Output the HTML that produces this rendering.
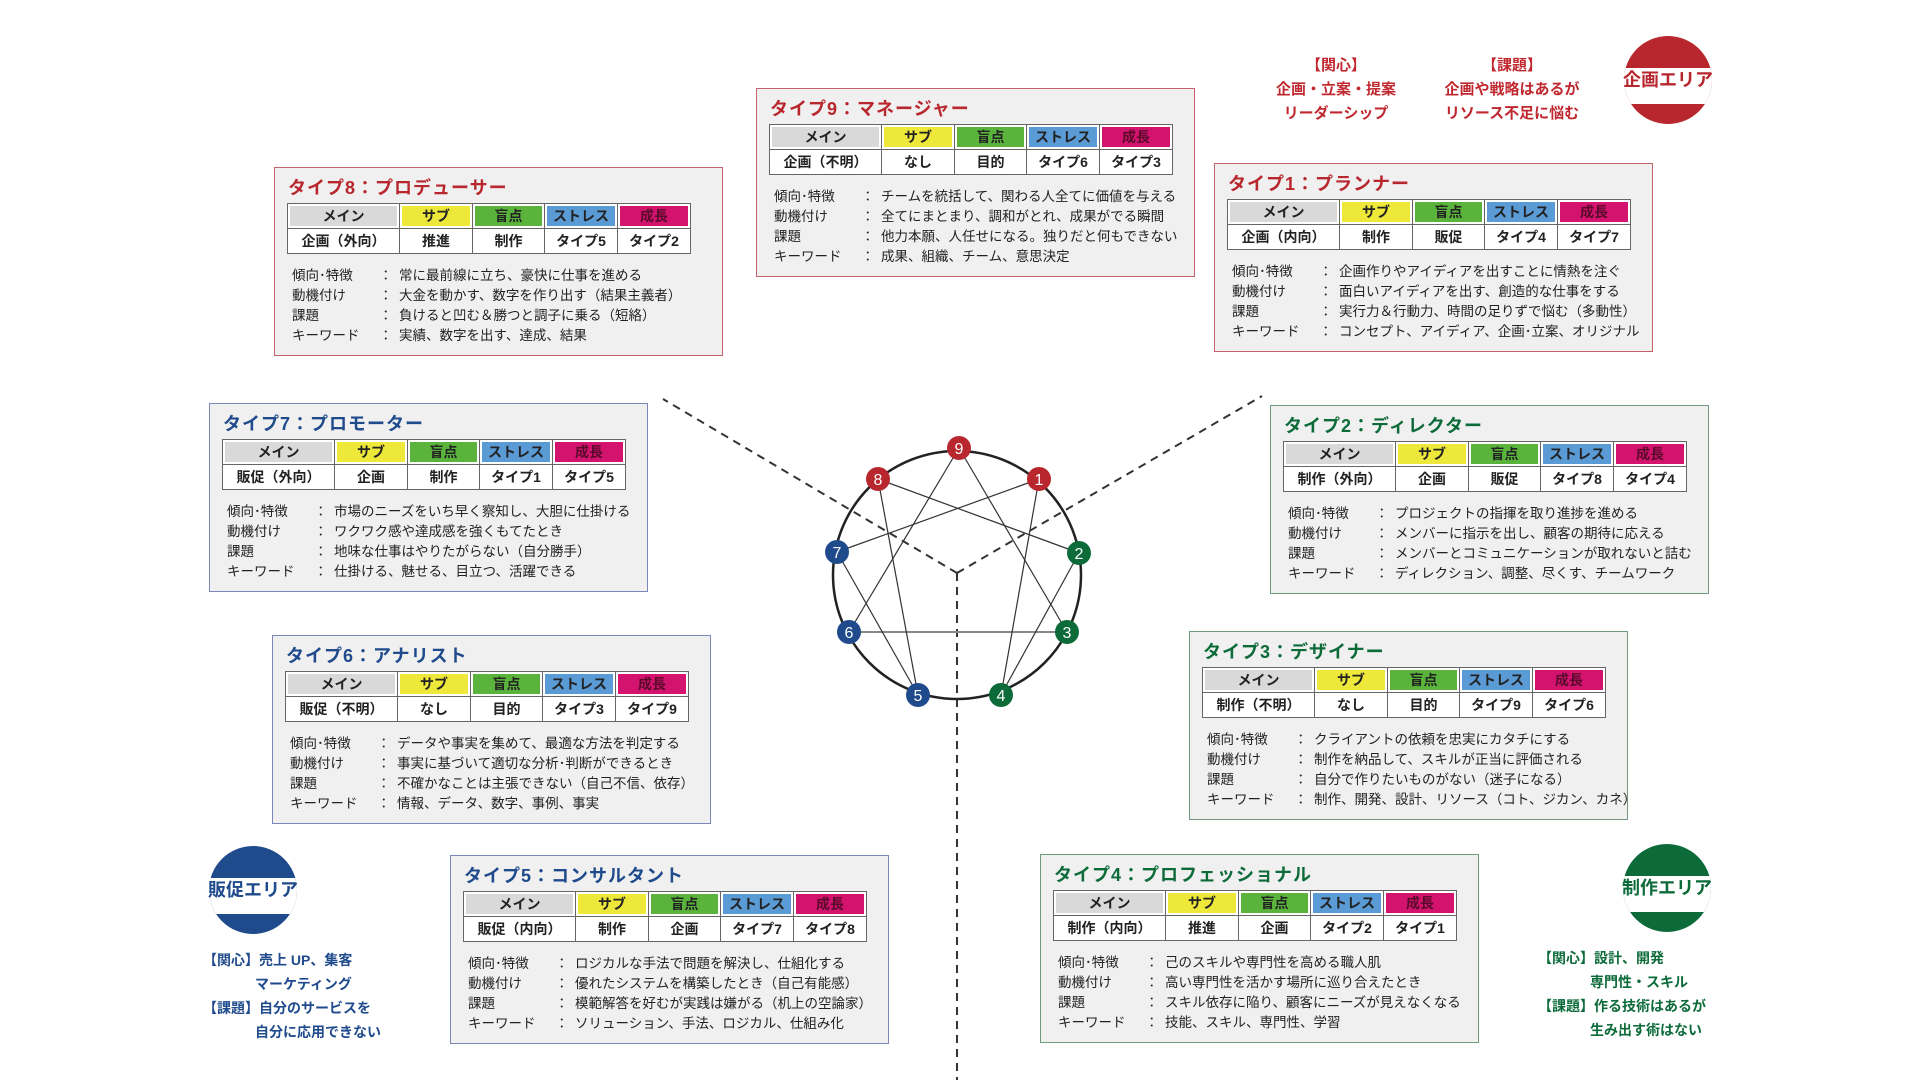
<!DOCTYPE html>
<html><head><meta charset="utf-8"><style>
*{box-sizing:border-box;margin:0;padding:0}
body{width:1920px;height:1080px;background:#fff;position:relative;overflow:hidden;font-family:"Liberation Sans","Noto Sans CJK JP",sans-serif;color:#222}
.box{position:absolute;width:439px;height:189px;background:#f0f0f0;border:1.5px solid #c4636a}
.box.b{border-color:#7c86b8}.box.g{border-color:#6f9a7e}
.t{position:absolute;left:13px;top:6px;font-size:18px;font-weight:bold;color:#b8272e;letter-spacing:1px}
.b .t{color:#1f4a8c}.g .t{color:#0d6b3a}
table{position:absolute;left:12px;top:35px;border-collapse:collapse;width:403px;table-layout:fixed;font-size:14px;font-weight:bold;text-align:center}
td{border:1.5px solid #666;height:25px;padding:0;background:#fff;white-space:nowrap;overflow:hidden}
td.h{box-shadow:inset 0 0 0 2px #fff}
.c0{background:#d9d9d9}.c1{background:#ede83a}.c2{background:#5ab43c}.c3{background:#5b9bd5}.c4{background:#d4136f;color:#5a0a2a}
.ln{position:absolute;left:17px;font-size:13.5px;white-space:nowrap;line-height:20px}
.ln span{position:absolute;left:87px}.ln i{font-style:normal;position:absolute;left:107px}
.ar{position:absolute;font-weight:bold;font-size:15px;line-height:24px;white-space:nowrap}
.circ{position:absolute;width:88px;height:88px;border-radius:50%;overflow:hidden}
.circ div{position:absolute;left:0;right:0;top:32px;height:36px;background:#fff}
.ct{position:absolute;width:120px;text-align:center;font-weight:bold;font-size:18px;line-height:36px;white-space:nowrap}
</style></head><body>

<svg width="1920" height="1080" style="position:absolute;left:0;top:0">
<g stroke="#333" stroke-width="2" stroke-dasharray="8,6" fill="none">
<line x1="957" y1="573" x2="957" y2="1080"/>
<line x1="957" y1="573" x2="663" y2="399"/>
<line x1="957" y1="573" x2="1262" y2="396"/>
</g>
<circle cx="957" cy="575" r="124" fill="none" stroke="#222" stroke-width="2.5"/>
<g stroke="#333" stroke-width="1.2">
<line x1="959" y1="448" x2="1067" y2="632"/>
<line x1="959" y1="448" x2="849" y2="632"/>
<line x1="849" y1="632" x2="1067" y2="632" stroke="#888" stroke-width="2"/>
<line x1="1039" y1="479" x2="1001" y2="695"/>
<line x1="1001" y1="695" x2="1079" y2="553"/>
<line x1="1079" y1="553" x2="878" y2="479"/>
<line x1="878" y1="479" x2="918" y2="695"/>
<line x1="918" y1="695" x2="837" y2="552"/>
<line x1="837" y1="552" x2="1039" y2="479"/>
</g>
<g font-family="Liberation Sans" font-size="16" fill="#fff" text-anchor="middle">
<circle cx="959" cy="448" r="12" fill="#b8272e"/><text x="959" y="454">9</text>
<circle cx="878" cy="479" r="12" fill="#b8272e"/><text x="878" y="485">8</text>
<circle cx="1039" cy="479" r="12" fill="#b8272e"/><text x="1039" y="485">1</text>
<circle cx="837" cy="552" r="12" fill="#1f4a8c"/><text x="837" y="558">7</text>
<circle cx="1079" cy="553" r="12" fill="#0d6b3a"/><text x="1079" y="559">2</text>
<circle cx="849" cy="632" r="12" fill="#1f4a8c"/><text x="849" y="638">6</text>
<circle cx="1067" cy="632" r="12" fill="#0d6b3a"/><text x="1067" y="638">3</text>
<circle cx="918" cy="695" r="12" fill="#1f4a8c"/><text x="918" y="701">5</text>
<circle cx="1001" cy="695" r="12" fill="#0d6b3a"/><text x="1001" y="701">4</text>
</g>
</svg>

<!-- Type 9 -->
<div class="box" style="left:756px;top:88px"><div class="t">タイプ9：マネージャー</div>
<table><colgroup><col style="width:112px"><col style="width:73px"><col style="width:72px"><col style="width:73px"><col style="width:73px"></colgroup><tr><td class="h c0">メイン</td><td class="h c1">サブ</td><td class="h c2">盲点</td><td class="h c3">ストレス</td><td class="h c4">成長</td></tr>
<tr><td>企画（不明）</td><td>なし</td><td>目的</td><td>タイプ6</td><td>タイプ3</td></tr></table>
<div class="ln" style="top:98px">傾向･特徴<span>：</span><i>チームを統括して、関わる人全てに価値を与える</i></div>
<div class="ln" style="top:118px">動機付け<span>：</span><i>全てにまとまり、調和がとれ、成果がでる瞬間</i></div>
<div class="ln" style="top:138px">課題<span>：</span><i>他力本願、人任せになる。独りだと何もできない</i></div>
<div class="ln" style="top:158px">キーワード<span>：</span><i>成果、組織、チーム、意思決定</i></div></div>

<!-- Type 8 -->
<div class="box" style="left:274px;top:167px;width:449px"><div class="t">タイプ8：プロデューサー</div>
<table><colgroup><col style="width:112px"><col style="width:73px"><col style="width:72px"><col style="width:73px"><col style="width:73px"></colgroup><tr><td class="h c0">メイン</td><td class="h c1">サブ</td><td class="h c2">盲点</td><td class="h c3">ストレス</td><td class="h c4">成長</td></tr>
<tr><td>企画（外向）</td><td>推進</td><td>制作</td><td>タイプ5</td><td>タイプ2</td></tr></table>
<div class="ln" style="top:98px">傾向･特徴<span>：</span><i>常に最前線に立ち、豪快に仕事を進める</i></div>
<div class="ln" style="top:118px">動機付け<span>：</span><i>大金を動かす、数字を作り出す（結果主義者）</i></div>
<div class="ln" style="top:138px">課題<span>：</span><i>負けると凹む＆勝つと調子に乗る（短絡）</i></div>
<div class="ln" style="top:158px">キーワード<span>：</span><i>実績、数字を出す、達成、結果</i></div></div>

<!-- Type 1 -->
<div class="box" style="left:1214px;top:163px"><div class="t">タイプ1：プランナー</div>
<table><colgroup><col style="width:112px"><col style="width:73px"><col style="width:72px"><col style="width:73px"><col style="width:73px"></colgroup><tr><td class="h c0">メイン</td><td class="h c1">サブ</td><td class="h c2">盲点</td><td class="h c3">ストレス</td><td class="h c4">成長</td></tr>
<tr><td>企画（内向）</td><td>制作</td><td>販促</td><td>タイプ4</td><td>タイプ7</td></tr></table>
<div class="ln" style="top:98px">傾向･特徴<span>：</span><i>企画作りやアイディアを出すことに情熱を注ぐ</i></div>
<div class="ln" style="top:118px">動機付け<span>：</span><i>面白いアイディアを出す、創造的な仕事をする</i></div>
<div class="ln" style="top:138px">課題<span>：</span><i>実行力＆行動力、時間の足りずで悩む（多動性）</i></div>
<div class="ln" style="top:158px">キーワード<span>：</span><i>コンセプト、アイディア、企画･立案、オリジナル</i></div></div>

<!-- Type 7 -->
<div class="box b" style="left:209px;top:403px"><div class="t">タイプ7：プロモーター</div>
<table><colgroup><col style="width:112px"><col style="width:73px"><col style="width:72px"><col style="width:73px"><col style="width:73px"></colgroup><tr><td class="h c0">メイン</td><td class="h c1">サブ</td><td class="h c2">盲点</td><td class="h c3">ストレス</td><td class="h c4">成長</td></tr>
<tr><td>販促（外向）</td><td>企画</td><td>制作</td><td>タイプ1</td><td>タイプ5</td></tr></table>
<div class="ln" style="top:98px">傾向･特徴<span>：</span><i>市場のニーズをいち早く察知し、大胆に仕掛ける</i></div>
<div class="ln" style="top:118px">動機付け<span>：</span><i>ワクワク感や達成感を強くもてたとき</i></div>
<div class="ln" style="top:138px">課題<span>：</span><i>地味な仕事はやりたがらない（自分勝手）</i></div>
<div class="ln" style="top:158px">キーワード<span>：</span><i>仕掛ける、魅せる、目立つ、活躍できる</i></div></div>

<!-- Type 2 -->
<div class="box g" style="left:1270px;top:405px"><div class="t">タイプ2：ディレクター</div>
<table><colgroup><col style="width:112px"><col style="width:73px"><col style="width:72px"><col style="width:73px"><col style="width:73px"></colgroup><tr><td class="h c0">メイン</td><td class="h c1">サブ</td><td class="h c2">盲点</td><td class="h c3">ストレス</td><td class="h c4">成長</td></tr>
<tr><td>制作（外向）</td><td>企画</td><td>販促</td><td>タイプ8</td><td>タイプ4</td></tr></table>
<div class="ln" style="top:98px">傾向･特徴<span>：</span><i>プロジェクトの指揮を取り進捗を進める</i></div>
<div class="ln" style="top:118px">動機付け<span>：</span><i>メンバーに指示を出し、顧客の期待に応える</i></div>
<div class="ln" style="top:138px">課題<span>：</span><i>メンバーとコミュニケーションが取れないと詰む</i></div>
<div class="ln" style="top:158px">キーワード<span>：</span><i>ディレクション、調整、尽くす、チームワーク</i></div></div>

<!-- Type 6 -->
<div class="box b" style="left:272px;top:635px"><div class="t">タイプ6：アナリスト</div>
<table><colgroup><col style="width:112px"><col style="width:73px"><col style="width:72px"><col style="width:73px"><col style="width:73px"></colgroup><tr><td class="h c0">メイン</td><td class="h c1">サブ</td><td class="h c2">盲点</td><td class="h c3">ストレス</td><td class="h c4">成長</td></tr>
<tr><td>販促（不明）</td><td>なし</td><td>目的</td><td>タイプ3</td><td>タイプ9</td></tr></table>
<div class="ln" style="top:98px">傾向･特徴<span>：</span><i>データや事実を集めて、最適な方法を判定する</i></div>
<div class="ln" style="top:118px">動機付け<span>：</span><i>事実に基づいて適切な分析･判断ができるとき</i></div>
<div class="ln" style="top:138px">課題<span>：</span><i>不確かなことは主張できない（自己不信、依存）</i></div>
<div class="ln" style="top:158px">キーワード<span>：</span><i>情報、データ、数字、事例、事実</i></div></div>

<!-- Type 3 -->
<div class="box g" style="left:1189px;top:631px"><div class="t">タイプ3：デザイナー</div>
<table><colgroup><col style="width:112px"><col style="width:73px"><col style="width:72px"><col style="width:73px"><col style="width:73px"></colgroup><tr><td class="h c0">メイン</td><td class="h c1">サブ</td><td class="h c2">盲点</td><td class="h c3">ストレス</td><td class="h c4">成長</td></tr>
<tr><td>制作（不明）</td><td>なし</td><td>目的</td><td>タイプ9</td><td>タイプ6</td></tr></table>
<div class="ln" style="top:98px">傾向･特徴<span>：</span><i>クライアントの依頼を忠実にカタチにする</i></div>
<div class="ln" style="top:118px">動機付け<span>：</span><i>制作を納品して、スキルが正当に評価される</i></div>
<div class="ln" style="top:138px">課題<span>：</span><i>自分で作りたいものがない（迷子になる）</i></div>
<div class="ln" style="top:158px">キーワード<span>：</span><i>制作、開発、設計、リソース（コト、ジカン、カネ）</i></div></div>

<!-- Type 5 -->
<div class="box b" style="left:450px;top:855px"><div class="t">タイプ5：コンサルタント</div>
<table><colgroup><col style="width:112px"><col style="width:73px"><col style="width:72px"><col style="width:73px"><col style="width:73px"></colgroup><tr><td class="h c0">メイン</td><td class="h c1">サブ</td><td class="h c2">盲点</td><td class="h c3">ストレス</td><td class="h c4">成長</td></tr>
<tr><td>販促（内向）</td><td>制作</td><td>企画</td><td>タイプ7</td><td>タイプ8</td></tr></table>
<div class="ln" style="top:98px">傾向･特徴<span>：</span><i>ロジカルな手法で問題を解決し、仕組化する</i></div>
<div class="ln" style="top:118px">動機付け<span>：</span><i>優れたシステムを構築したとき（自己有能感）</i></div>
<div class="ln" style="top:138px">課題<span>：</span><i>模範解答を好むが実践は嫌がる（机上の空論家）</i></div>
<div class="ln" style="top:158px">キーワード<span>：</span><i>ソリューション、手法、ロジカル、仕組み化</i></div></div>

<!-- Type 4 -->
<div class="box g" style="left:1040px;top:854px"><div class="t">タイプ4：プロフェッショナル</div>
<table><colgroup><col style="width:112px"><col style="width:73px"><col style="width:72px"><col style="width:73px"><col style="width:73px"></colgroup><tr><td class="h c0">メイン</td><td class="h c1">サブ</td><td class="h c2">盲点</td><td class="h c3">ストレス</td><td class="h c4">成長</td></tr>
<tr><td>制作（内向）</td><td>推進</td><td>企画</td><td>タイプ2</td><td>タイプ1</td></tr></table>
<div class="ln" style="top:98px">傾向･特徴<span>：</span><i>己のスキルや専門性を高める職人肌</i></div>
<div class="ln" style="top:118px">動機付け<span>：</span><i>高い専門性を活かす場所に巡り合えたとき</i></div>
<div class="ln" style="top:138px">課題<span>：</span><i>スキル依存に陥り、顧客にニーズが見えなくなる</i></div>
<div class="ln" style="top:158px">キーワード<span>：</span><i>技能、スキル、専門性、学習</i></div></div>

<!-- Areas -->
<div class="circ" style="left:1624px;top:36px;background:#b8272e"><div></div></div>
<div class="ct" style="left:1608px;top:62px;color:#b8272e">企画エリア</div>
<div class="ar" style="left:1276px;top:54px;width:120px;text-align:center;color:#c0282f">【関心】<br>企画・立案・提案<br>リーダーシップ</div>
<div class="ar" style="left:1432px;top:54px;width:160px;text-align:center;color:#c0282f">【課題】<br>企画や戦略はあるが<br>リソース不足に悩む</div>

<div class="circ" style="left:209px;top:846px;background:#1f4a8c"><div></div></div>
<div class="ct" style="left:193px;top:872px;color:#1f4a8c">販促エリア</div>
<div class="ar" style="left:203px;top:948px;color:#1f4a8c;font-size:14px">【関心】売上 UP、集客<br><span style="padding-left:52px">マーケティング</span><br>【課題】自分のサービスを<br><span style="padding-left:52px">自分に応用できない</span></div>

<div class="circ" style="left:1623px;top:844px;background:#0d6b3a"><div></div></div>
<div class="ct" style="left:1607px;top:870px;color:#0d6b3a">制作エリア</div>
<div class="ar" style="left:1538px;top:946px;color:#0d6b3a;font-size:14px">【関心】設計、開発<br><span style="padding-left:52px">専門性・スキル</span><br>【課題】作る技術はあるが<br><span style="padding-left:52px">生み出す術はない</span></div>

</body></html>
